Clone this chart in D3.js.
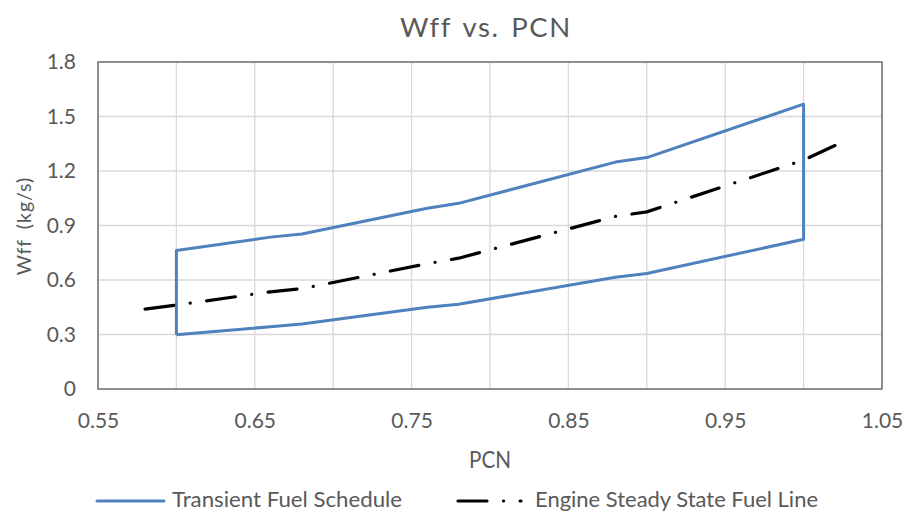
<!DOCTYPE html>
<html>
<head>
<meta charset="utf-8">
<script src="https://cdn.jsdelivr.net/npm/d3@7"></script>
<style>
  html, body { margin: 0; padding: 0; background: #fff; }
  svg text { font-family: Lato, "Open Sans", sans-serif; fill: #595959; }
</style>
</head>
<body>
<svg id="chart" width="908" height="516"></svg>
<script>
// Transient fuel schedule: upper (acceleration) and lower (deceleration) limits
const pcnSchedule = [0.60, 0.66, 0.68, 0.76, 0.78, 0.88, 0.90, 1.00];
const wffUpper    = [0.762, 0.836, 0.853, 0.995, 1.022, 1.249, 1.274, 1.568];
const wffLower    = [0.298, 0.343, 0.358, 0.450, 0.467, 0.615, 0.636, 0.824];

// Engine steady-state fuel line
const pcnSteady = [0.58, 0.60, 0.66, 0.68, 0.76, 0.78, 0.88, 0.90, 1.00, 1.02];
const wffSteady = [0.440, 0.462, 0.535, 0.552, 0.690, 0.720, 0.950, 0.975, 1.260, 1.340];

const xTicks = [0.55, 0.65, 0.75, 0.85, 0.95, 1.05];
const xGrid  = [0.55, 0.60, 0.65, 0.70, 0.75, 0.80, 0.85, 0.90, 0.95, 1.00, 1.05];
const yTicks = [0, 0.3, 0.6, 0.9, 1.2, 1.5, 1.8];

const seriesNames = ["Transient Fuel Schedule", "Engine Steady State Fuel Line"];

const svg = d3.select("#chart");
const plotL = 98, plotR = 882, plotT = 62, plotB = 389;

const x = d3.scaleLinear().domain([0.55, 1.05]).range([plotL, plotR]);
const y = d3.scaleLinear().domain([0, 1.8]).range([plotB, plotT]);

const blue = "#4f81bd";
const dashDot = "29 16.5 0.1 16.5";

// Gridlines
const grid = svg.append("g");
grid.selectAll("line.v").data(xGrid).join("line")
  .attr("class", "v")
  .attr("x1", d => x(d)).attr("x2", d => x(d))
  .attr("y1", plotT).attr("y2", plotB)
  .attr("stroke", "#d9d9d9").attr("stroke-width", 1.3);
grid.selectAll("line.h").data(yTicks).join("line")
  .attr("class", "h")
  .attr("x1", plotL).attr("x2", plotR)
  .attr("y1", d => y(d)).attr("y2", d => y(d))
  .attr("stroke", "#d9d9d9").attr("stroke-width", 1.3);

// Plot-area frame
svg.append("rect")
  .attr("x", plotL).attr("y", plotT)
  .attr("width", plotR - plotL).attr("height", plotB - plotT)
  .attr("fill", "none").attr("stroke", "#737373").attr("stroke-width", 1.5);

// Axes (labels only; frame drawn above)
const xAxis = svg.append("g").attr("transform", `translate(0,${plotB})`)
  .call(d3.axisBottom(x).tickValues(xTicks).tickFormat(d3.format(".2f")).tickSize(0).tickPadding(24));
const yAxis = svg.append("g").attr("transform", `translate(${plotL},0)`)
  .call(d3.axisLeft(y).tickValues(yTicks).tickFormat(d => d === 0 ? "0" : d3.format(".1f")(d)).tickSize(0).tickPadding(22));
[xAxis, yAxis].forEach(a => {
  a.select(".domain").remove();
  a.selectAll("text").style("font-size", "21px").attr("fill", "#595959");
});

// Transient schedule drawn as a closed band: lower edge, right side up, upper edge back, left side down
const band = pcnSchedule.map((p, i) => [p, wffLower[i]])
  .concat(pcnSchedule.map((p, i) => [p, wffUpper[i]]).reverse());
band.push(band[0]);
const line = d3.line().x(d => x(d[0])).y(d => y(d[1]));
svg.append("path")
  .attr("d", line(band))
  .attr("fill", "none").attr("stroke", blue).attr("stroke-width", 3)
  .attr("stroke-linejoin", "round");

// Steady-state line
svg.append("path")
  .attr("d", line(pcnSteady.map((p, i) => [p, wffSteady[i]])))
  .attr("fill", "none").attr("stroke", "#000").attr("stroke-width", 3.2)
  .attr("stroke-dasharray", dashDot).attr("stroke-linecap", "round");

// Titles
svg.append("text").attr("x", 486).attr("y", 37).attr("text-anchor", "middle")
  .style("font-size", "27.5px").style("letter-spacing", "1.6px").style("word-spacing", "3px")
  .text("Wff vs. PCN");
svg.append("text").attr("x", 490).attr("y", 468).attr("text-anchor", "middle")
  .attr("textLength", 42).attr("lengthAdjust", "spacingAndGlyphs")
  .style("font-size", "23px").text("PCN");
svg.append("text").attr("transform", "translate(31,226) rotate(-90)").attr("text-anchor", "middle")
  .style("font-size", "19.5px").style("letter-spacing", "1px").style("word-spacing", "4px")
  .text("Wff (kg/s)");

// Legend
const legend = svg.append("g");
legend.append("line").attr("x1", 97).attr("x2", 164).attr("y1", 501).attr("y2", 501)
  .attr("stroke", blue).attr("stroke-width", 3).attr("stroke-linecap", "round");
legend.append("text").attr("x", 172).attr("y", 507)
  .attr("textLength", 230).attr("lengthAdjust", "spacingAndGlyphs")
  .style("font-size", "22px").text(seriesNames[0]);
legend.append("line").attr("x1", 458).attr("x2", 521).attr("y1", 501).attr("y2", 501)
  .attr("stroke", "#000").attr("stroke-width", 3.2)
  .attr("stroke-dasharray", dashDot).attr("stroke-linecap", "round");
legend.append("text").attr("x", 535).attr("y", 507)
  .attr("textLength", 283).attr("lengthAdjust", "spacingAndGlyphs")
  .style("font-size", "22px").text(seriesNames[1]);
</script>
</body>
</html>
